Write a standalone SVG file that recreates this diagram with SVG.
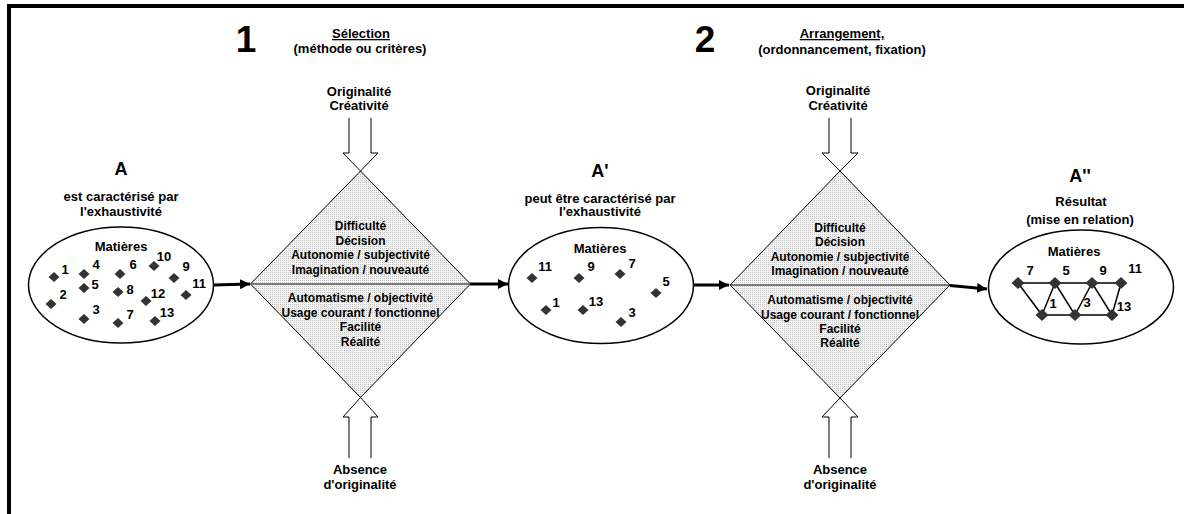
<svg xmlns="http://www.w3.org/2000/svg" width="1184" height="514" viewBox="0 0 1184 514">
<style>
text{font-family:"Liberation Sans",Arial,sans-serif;font-weight:bold;fill:#000;text-anchor:middle}
.t13{font-size:13px}
.t12{font-size:12px}
.big{font-size:18px}
.num{font-size:37px}
.u{text-decoration:underline}
.ell{fill:#fff;stroke:#000;stroke-width:1.5}
.dia{fill:url(#dots);stroke:#000;stroke-width:1}
.mid{stroke:#555;stroke-width:1.5}
.barrow{fill:none;stroke:#000;stroke-width:1}
.conn{stroke:#000;stroke-width:3;fill:none}
.edge{stroke:#000;stroke-width:1.5}
</style>
<defs>
<pattern id="dots" width="2" height="2" patternUnits="userSpaceOnUse">
<rect width="2" height="2" fill="#f4f4f4"/>
<rect width="1" height="1" fill="#c4c4c4"/>
</pattern>
<path id="pt" d="M0,-5 L5.5,0 L0,5 L-5.5,0 Z" fill="#333"/>
<path id="pn" d="M0,-6 L6.5,0 L0,6 L-6.5,0 Z" fill="#333"/>
<marker id="ah" markerWidth="10" markerHeight="10" viewBox="0 0 10 10" refX="10" refY="5" orient="auto" markerUnits="userSpaceOnUse">
<path d="M0,0 L10,5 L0,10 Z" fill="#000"/>
</marker>
</defs>
<rect width="1184" height="514" fill="#fff"/>
<rect x="9" y="6" width="1200" height="600" fill="none" stroke="#000" stroke-width="4"/>

<g id="headers">
<text class="num" x="246" y="52">1</text>
<text class="t13 u" x="361" y="38">Sélection</text>
<text class="t13" x="360" y="53">(méthode ou critères)</text>
<text class="num" x="705" y="52">2</text>
<text class="t13 u" x="842" y="38">Arrangement,</text>
<text class="t13" x="842" y="54">(ordonnancement, fixation)</text>
</g>

<g id="connectors">
<line class="conn" x1="213" y1="285" x2="250" y2="284" marker-end="url(#ah)"/>
<line class="conn" x1="470" y1="284" x2="508" y2="284" marker-end="url(#ah)"/>
<line class="conn" x1="693" y1="285" x2="729" y2="285" marker-end="url(#ah)"/>
<line class="conn" x1="950" y1="285.5" x2="987" y2="289" marker-end="url(#ah)"/>
</g>

<g id="nodeA">
<text class="big" x="121" y="175">A</text>
<text class="t13" x="121" y="201">est caractérisé par</text>
<text class="t13" x="121" y="216">l'exhaustivité</text>
<ellipse class="ell" cx="121" cy="285" rx="92.5" ry="58"/>
<text class="t13" x="121" y="251">Matières</text>
<use href="#pt" x="54" y="277"/><text class="t13" x="65" y="274">1</text>
<use href="#pt" x="51" y="304"/><text class="t13" x="63" y="299">2</text>
<use href="#pt" x="84" y="274"/><text class="t13" x="96" y="269">4</text>
<use href="#pt" x="84" y="288"/><text class="t13" x="95" y="289">5</text>
<use href="#pt" x="84" y="319"/><text class="t13" x="96" y="314">3</text>
<use href="#pt" x="120" y="274"/><text class="t13" x="133" y="269">6</text>
<use href="#pt" x="118" y="292"/><text class="t13" x="130" y="294">8</text>
<use href="#pt" x="118" y="323"/><text class="t13" x="130" y="319">7</text>
<use href="#pt" x="154" y="266"/><text class="t13" x="164" y="261">10</text>
<use href="#pt" x="146" y="301"/><text class="t13" x="158" y="298">12</text>
<use href="#pt" x="155" y="321"/><text class="t13" x="167" y="317">13</text>
<use href="#pt" x="174" y="278"/><text class="t13" x="186" y="271">9</text>
<use href="#pt" x="186" y="295"/><text class="t13" x="199" y="288">11</text>
</g>

<g id="diamond1">
<path class="barrow" d="M349,118 V153 H343 L360.5,171 L378,153 H371 V118"/>
<text class="t13" x="359" y="96">Originalité</text>
<text class="t13" x="359" y="110">Créativité</text>
<polygon class="dia" points="360.5,171 470.5,284 360.5,397.5 250.5,284"/>
<line class="mid" x1="251" y1="284" x2="470" y2="284"/>
<text class="t12" x="360.5" y="230">Difficulté</text>
<text class="t12" x="360.5" y="244.5">Décision</text>
<text class="t12" x="360.5" y="259">Autonomie / subjectivité</text>
<text class="t12" x="360.5" y="273.5">Imagination / nouveauté</text>
<text class="t12" x="360.5" y="302">Automatisme / objectivité</text>
<text class="t12" x="360.5" y="316.5">Usage courant / fonctionnel</text>
<text class="t12" x="360.5" y="331">Facilité</text>
<text class="t12" x="360.5" y="345.5">Réalité</text>
<path class="barrow" d="M349,458 V417 H343 L360.5,397.5 L378,417 H371 V458"/>
<text class="t13" x="360" y="474">Absence</text>
<text class="t13" x="360" y="489">d'originalité</text>
</g>

<g id="nodeA1">
<text class="big" x="600" y="177">A'</text>
<text class="t13" x="600" y="203">peut être caractérisé par</text>
<text class="t13" x="600" y="216">l'exhaustivité</text>
<ellipse class="ell" cx="601" cy="285.5" rx="92.5" ry="58"/>
<text class="t13" x="600" y="253">Matières</text>
<use href="#pt" x="532" y="278"/><text class="t13" x="545" y="271">11</text>
<use href="#pt" x="579" y="278"/><text class="t13" x="591" y="271">9</text>
<use href="#pt" x="620" y="274"/><text class="t13" x="632" y="268">7</text>
<use href="#pt" x="656" y="293"/><text class="t13" x="666" y="286">5</text>
<use href="#pt" x="546" y="310"/><text class="t13" x="556" y="307">1</text>
<use href="#pt" x="583" y="310"/><text class="t13" x="596" y="306">13</text>
<use href="#pt" x="621" y="322"/><text class="t13" x="632" y="317">3</text>
</g>

<g id="diamond2">
<path class="barrow" d="M829,118 V153 H822 L840,171 L858,153 H851 V118"/>
<text class="t13" x="838" y="95">Originalité</text>
<text class="t13" x="838" y="110">Créativité</text>
<polygon class="dia" points="840,171 950,285 840,398 730,285"/>
<line class="mid" x1="731" y1="285" x2="949" y2="285"/>
<text class="t12" x="840" y="231.5">Difficulté</text>
<text class="t12" x="840" y="246">Décision</text>
<text class="t12" x="840" y="260.5">Autonomie / subjectivité</text>
<text class="t12" x="840" y="275">Imagination / nouveauté</text>
<text class="t12" x="840" y="304">Automatisme / objectivité</text>
<text class="t12" x="840" y="318.5">Usage courant / fonctionnel</text>
<text class="t12" x="840" y="333">Facilité</text>
<text class="t12" x="840" y="347">Réalité</text>
<path class="barrow" d="M829,458 V417 H822 L840,398 L858,417 H851 V458"/>
<text class="t13" x="840" y="474">Absence</text>
<text class="t13" x="840" y="489">d'originalité</text>
</g>

<g id="nodeA2">
<text class="big" x="1080" y="182">A''</text>
<text class="t13" x="1081" y="206">Résultat</text>
<text class="t13" x="1080" y="224">(mise en relation)</text>
<ellipse class="ell" cx="1081" cy="287" rx="92.5" ry="57"/>
<text class="t13" x="1074" y="256">Matières</text>
<g>
<line class="edge" x1="1018" y1="283" x2="1121" y2="283"/>
<line class="edge" x1="1042" y1="315" x2="1112" y2="315"/>
<line class="edge" x1="1018" y1="283" x2="1042" y2="315"/>
<line class="edge" x1="1055" y1="283" x2="1042" y2="315"/>
<line class="edge" x1="1055" y1="283" x2="1075" y2="315"/>
<line class="edge" x1="1092" y1="283" x2="1075" y2="315"/>
<line class="edge" x1="1092" y1="283" x2="1112" y2="315"/>
<line class="edge" x1="1121" y1="283" x2="1112" y2="315"/>
</g>
<use href="#pn" x="1018" y="283"/><text class="t13" x="1030" y="275">7</text>
<use href="#pn" x="1055" y="283"/><text class="t13" x="1066" y="275">5</text>
<use href="#pn" x="1092" y="283"/><text class="t13" x="1103" y="275">9</text>
<use href="#pn" x="1121" y="283"/><text class="t13" x="1135" y="273">11</text>
<use href="#pn" x="1042" y="315"/><text class="t13" x="1053" y="308">1</text>
<use href="#pn" x="1075" y="315"/><text class="t13" x="1087" y="307">3</text>
<use href="#pn" x="1112" y="315"/><text class="t13" x="1124" y="311">13</text>
</g>
</svg>
